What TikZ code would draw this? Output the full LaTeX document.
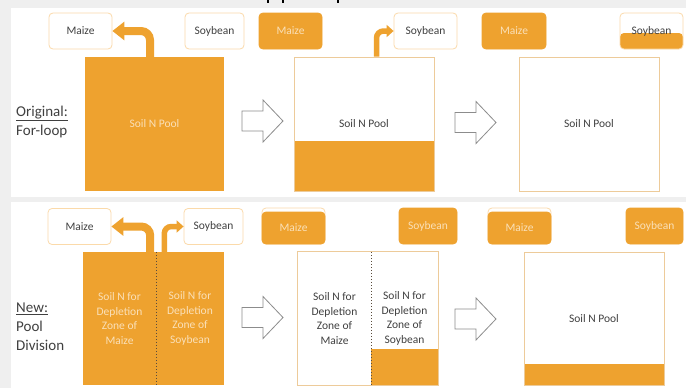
\documentclass[tikz,border=0pt]{standalone}
\usepackage{fontspec}
\setmainfont{Carlito}
\usetikzlibrary{arrows.meta}
\definecolor{orng}{HTML}{EEA22F}
\definecolor{lbord}{HTML}{FBDAAA}
\definecolor{pbord}{HTML}{EDCB9A}
\definecolor{txt}{HTML}{404040}
\definecolor{ltxt}{HTML}{FAE0B8}
\definecolor{bgray}{HTML}{EFEFEF}
\definecolor{agray}{HTML}{8C8C8C}
\definecolor{dgray}{HTML}{5A4C3C}
\newcommand{\lbl}{\fontsize{11.5}{14.5}\selectfont}
\newcommand{\side}{\fontsize{15}{19}\selectfont}
\begin{document}
\begin{tikzpicture}[x=1pt,y=-1pt,
 box/.style={rounded corners=4pt, minimum height=36pt, inner sep=0pt, font=\lbl},
 obox/.style={box, draw=lbord, line width=0.8pt, fill=white, text=txt},
 fbox/.style={box, fill=orng, draw=orng, line width=0.8pt, text=ltxt},
 pool/.style={minimum height=134pt, inner sep=0pt, font=\lbl, align=center},
 half/.style={minimum height=133pt, inner sep=0pt, font=\lbl, align=center},
 marr/.style={draw=orng, line width=8pt, rounded corners=9pt, -{Triangle[length=12pt,width=18pt]}},
 sarr/.style={draw=orng, line width=5.5pt, rounded corners=7pt, -{Triangle[length=7pt,width=12pt]}},
 side/.style={anchor=west, align=left, font=\side, text=txt, inner sep=0pt},
 dotl/.style={draw=dgray, line width=1pt, dotted},
 barr/.pic={\draw[agray, line width=0.8pt, fill=white, line join=miter]
   (0,-10) -- (21,-10) -- (21,-21) -- (41,0) -- (21,21) -- (21,10) -- (0,10) -- cycle;}
]
\useasboundingbox (0,0) rectangle (686,388);
% background panels
\fill[bgray] (0,0) rectangle (686,388);
\fill[white] (11,8) rectangle (686,197);
\fill[white] (11,202) rectangle (686,388);
% title fragments
\fill[black] (267,0) rectangle (269,3);
\fill[black] (282,0) rectangle (284,3);
\fill[black] (337,0) rectangle (339,3);

% ===== top panel =====
\node[side] (lab1) at (16,122) {\underline{Original:}\\For-loop};

\node[obox, minimum width=63pt] (m1) at (80.5,31) {Maize};
\node[obox, minimum width=59pt] (s1) at (214.5,31) {Soybean};
\node[fbox, minimum width=63pt] (m2) at (290.5,31) {Maize};
\node[obox, minimum width=63pt] (s2) at (425.5,31) {Soybean};
\node[fbox, minimum width=64pt] (m4) at (514,31) {Maize};
\node[obox, minimum width=63pt,
  path picture={\fill[orng] ([yshift=-2pt]path picture bounding box.west) rectangle (path picture bounding box.south east);}]
  (s4) at (651.5,31) {Soybean};

\node[pool, minimum width=139pt, fill=orng, text=ltxt] (p1) at (154.5,124) {Soil N Pool};
\node[pool, minimum width=140pt, draw=pbord, line width=0.8pt, fill=white, text=txt,
  path picture={\fill[orng] (path picture bounding box.south west) rectangle ([yshift=50pt]path picture bounding box.south east);}]
  (p2) at (364,124) {Soil N Pool};
\node[pool, minimum width=140pt, draw=pbord, line width=0.8pt, fill=white, text=txt] (p3) at (589,124) {Soil N Pool};

\draw[marr] ([xshift=-4.5pt]p1.north) |- (m1.east);
\draw[sarr] ([xshift=12.5pt]p2.north) |- (s2.west);

\pic at (242,121) {barr};
\pic at (455,122.5) {barr};

% ===== bottom panel =====
\node[side] (lab2) at (16,326.5) {\underline{New:}\\Pool\\Division};

\node[obox, minimum width=63pt] (m3) at (79.5,226.5) {Maize};
\node[obox, minimum width=59pt] (s3) at (213.5,226.5) {Soybean};
\node[obox, minimum width=63pt] (m5b) at (293.5,226) {};
\node[fbox, minimum width=63pt, minimum height=32pt] (m5) at (293.5,228) {Maize};
\node[fbox, minimum width=58pt] (s5) at (428,226) {Soybean};
\node[obox, minimum width=63pt] (m6b) at (519.5,226) {};
\node[fbox, minimum width=63pt, minimum height=32pt] (m6) at (519.5,228) {Maize};
\node[fbox, minimum width=57pt] (s6) at (654.5,226) {Soybean};

% first divided pool
\node[half, minimum width=73pt, fill=orng, text=ltxt] (a1) at (119.5,318.5) {Soil N for\\Depletion\\Zone of\\Maize};
\node[half, minimum width=68pt, fill=orng, text=ltxt] (b1) at (190,318.5) {Soil N for\\Depletion\\Zone of\\Soybean};
\draw[dotl] (a1.north east) -- (a1.south east);

\draw[marr] ([xshift=-6pt]a1.north east) |- (m3.east);
\draw[sarr] ([xshift=8.5pt]b1.north west) |- (s3.west);

% second divided pool
\node[half, minimum width=73pt, fill=white, text=txt] (a2) at (334.5,318.5) {Soil N for\\Depletion\\Zone of\\Maize};
\node[half, minimum width=67pt, fill=white, text=txt,
  path picture={\fill[orng] (path picture bounding box.south west) rectangle ([yshift=36pt]path picture bounding box.south east);}]
  (b2) at (404.5,318.5) {Soil N for\\Depletion\\Zone of\\Soybean};
\draw[pbord, line width=0.8pt] (a2.north west) rectangle (b2.south east);
\draw[dotl] (a2.north east) -- (a2.south east);

% final pool
\node[half, minimum width=140pt, draw=pbord, line width=0.8pt, fill=white, text=txt,
  path picture={\fill[orng] (path picture bounding box.south west) rectangle ([yshift=21pt]path picture bounding box.south east);}]
  (p6) at (594,318.5) {Soil N Pool};

\pic at (242,317.5) {barr};
\pic at (455,319) {barr};
\end{tikzpicture}
\end{document}
